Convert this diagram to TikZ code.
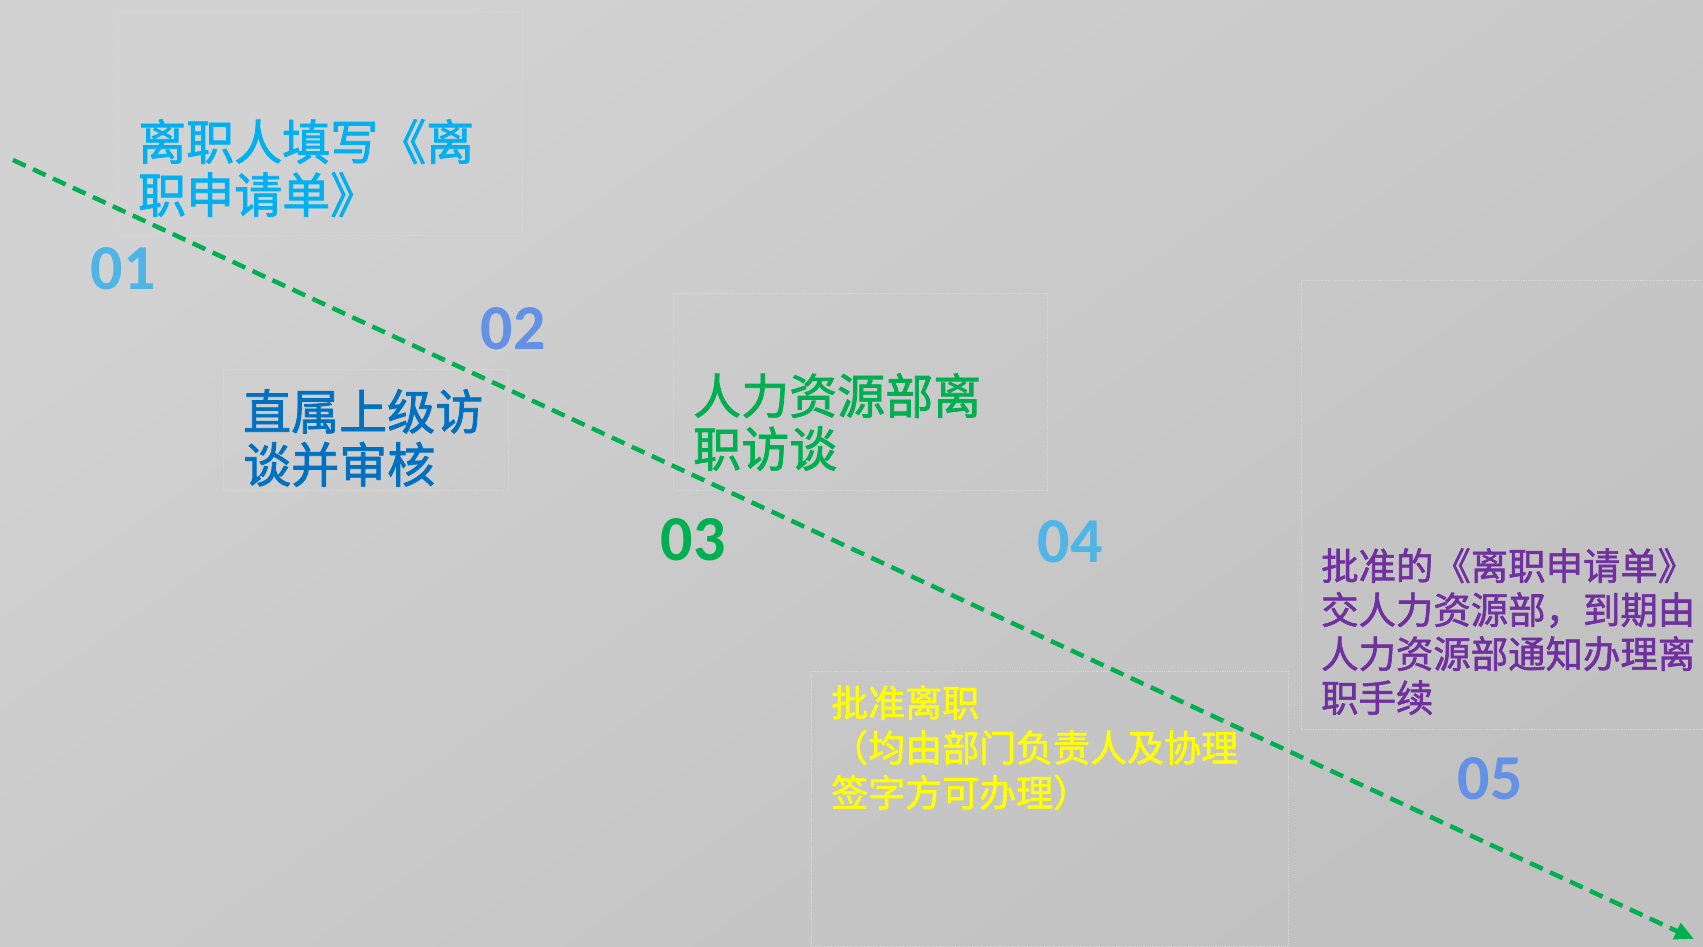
\documentclass[tikz,border=0pt]{standalone}
\usepackage{fontspec}
\newfontfamily\cjk[FakeBold=1.6]{Noto Sans CJK SC}
\newfontfamily\digitfont{Carlito}
\usetikzlibrary{arrows.meta}
\definecolor{bgA}{HTML}{D2D2D2}
\definecolor{bgB}{HTML}{C1C1C1}
\definecolor{boxline}{HTML}{D6D6D6}
\definecolor{lineg}{HTML}{00B050}
\definecolor{numA}{HTML}{4FB5E6}
\definecolor{numB}{HTML}{6391E5}
\definecolor{tcyan}{HTML}{00B0F0}
\definecolor{tblue}{HTML}{0070C0}
\definecolor{tgreen}{HTML}{00B050}
\definecolor{tyellow}{HTML}{FFFF00}
\definecolor{tpurple}{HTML}{7030A0}
\tikzset{
  numlabel/.style={inner sep=0pt, font=\digitfont\bfseries\fontsize{64}{64}\selectfont},
  bigtext/.style={inner sep=0pt, anchor=north west, align=left, font=\cjk\fontsize{48}{53}\selectfont},
  smalltext/.style={inner sep=0pt, anchor=north west, align=left},
  stepframe/.style={draw=boxline, densely dotted, line width=0.8pt},
  flowline/.style={draw=lineg, line width=4.5pt, dash pattern=on 14pt off 8pt, -{Triangle[length=19pt,width=17pt]}}
}
\begin{document}
\begin{tikzpicture}[x=1pt,y=-1pt]
\useasboundingbox (0,0) rectangle (1703,946);
\shade[shading=axis, top color=bgA, bottom color=bgB, shading angle=35] (0,0) rectangle (1703,946);
% frames
\draw[stepframe] (117,11) rectangle (522,235);
\draw[stepframe] (223,369) rectangle (508,490);
\draw[stepframe] (673,293) rectangle (1047,490);
\draw[stepframe] (811,671) rectangle (1288,946);
\draw[stepframe] (1301,280) rectangle (1703,729);
% dashed flow line
\coordinate (start) at (13,160);
\coordinate (tip) at (1694,939);
\draw[flowline] (start) -- (tip);
% numbers
\node[numlabel, text=numA] (n1) at (123,269) {01};
\node[numlabel, text=numB] (n2) at (513,329) {02};
\node[numlabel, text=tgreen] (n3) at (693,540) {03};
\node[numlabel, text=numA] (n4) at (1070,542) {04};
\node[numlabel, text=numB] (n5) at (1490,779) {05};
% texts
\node[bigtext, text=tcyan] (t1) at (138,119) {离职人填写《离\\职申请单》};
\node[bigtext, text=tblue] (t2) at (243,389) {直属上级访\\谈并审核};
\node[bigtext, text=tgreen] (t3) at (693,373) {人力资源部离\\职访谈};
\node[smalltext, text=tyellow, font=\cjk\fontsize{37}{45}\selectfont] (t4) at (831,685) {批准离职\\（均由部门负责人及协理\\签字方可办理）};
\node[smalltext, text=tpurple, font=\cjk\fontsize{37.4}{44}\selectfont] (t5) at (1321,548) {批准的《离职申请单》\\交人力资源部，到期由\\人力资源部通知办理离\\职手续};
\end{tikzpicture}
\end{document}
